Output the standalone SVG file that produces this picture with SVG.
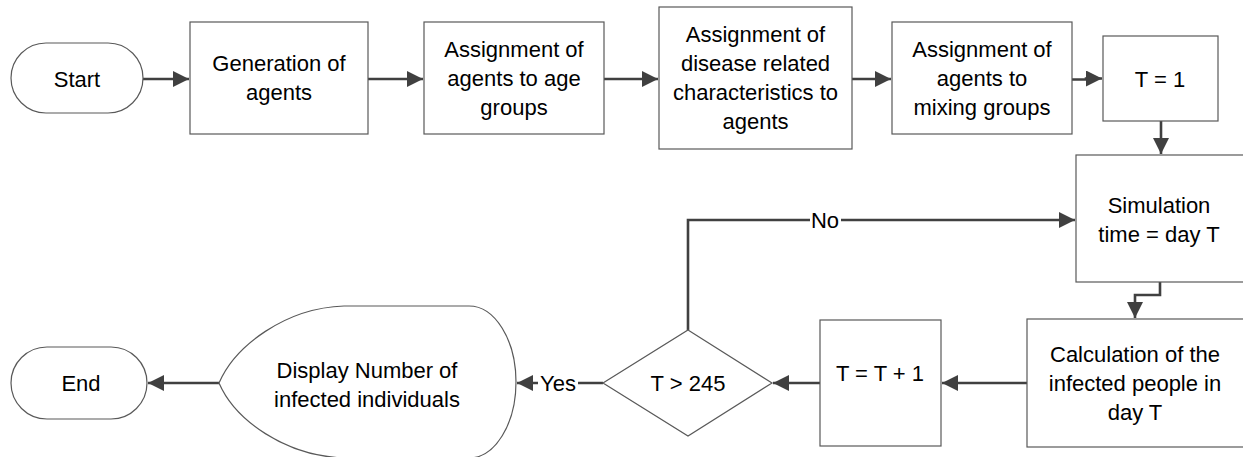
<svg xmlns="http://www.w3.org/2000/svg" width="1243" height="457" viewBox="0 0 1243 457">
<style>
.shape{fill:#fff;stroke:#595959;stroke-width:1.2}
.conn{fill:none;stroke:#404040;stroke-width:2.6}
text{font-family:"Liberation Sans",Arial,sans-serif;font-size:22px;fill:#000;text-anchor:middle}
.lbl{fill:#fff;stroke:none}
</style>
<defs>
<marker id="arr" markerWidth="16" markerHeight="16" viewBox="0 0 16 16" refX="16" refY="8" orient="auto" markerUnits="userSpaceOnUse">
<path d="M0,0 L16,8 L0,16 Z" fill="#404040"/>
</marker>
</defs>
<rect width="1243" height="457" fill="#fff"/>
<g id="connectors">
<path class="conn" d="M143,79 H189" marker-end="url(#arr)"/>
<path class="conn" d="M368,79 H423" marker-end="url(#arr)"/>
<path class="conn" d="M604,79 H658" marker-end="url(#arr)"/>
<path class="conn" d="M852,79 H891" marker-end="url(#arr)"/>
<path class="conn" d="M1072,79.5 H1086 V78.5 H1102" marker-end="url(#arr)"/>
<path class="conn" d="M1161,121 V154" marker-end="url(#arr)"/>
<path class="conn" d="M1160,282 V295 H1135 V318" marker-end="url(#arr)"/>
<path class="conn" d="M1027,383 H942" marker-end="url(#arr)"/>
<path class="conn" d="M820,383 H773" marker-end="url(#arr)"/>
<path class="conn" d="M688,330 V220 H1075" marker-end="url(#arr)"/>
<path class="conn" d="M603,383 H517" marker-end="url(#arr)"/>
<path class="conn" d="M219,383 H148" marker-end="url(#arr)"/>
<rect class="lbl" x="810" y="208" width="31" height="24"/>
<text x="825" y="228">No</text>
<rect class="lbl" x="538" y="371" width="40" height="24"/>
<text x="558" y="391">Yes</text>
</g>
<g id="start">
<rect class="shape" x="11" y="43" width="132" height="70" rx="35" ry="35"/>
<text x="77" y="87">Start</text>
</g>
<g id="generation">
<rect class="shape" x="190" y="22" width="178" height="112"/>
<text x="279" y="71">Generation of</text>
<text x="279" y="100">agents</text>
</g>
<g id="age">
<rect class="shape" x="424" y="22" width="180" height="112"/>
<text x="514" y="57">Assignment of</text>
<text x="514" y="86">agents to age</text>
<text x="514" y="115">groups</text>
</g>
<g id="disease">
<rect class="shape" x="659" y="7" width="193" height="142"/>
<text x="755.5" y="42">Assignment of</text>
<text x="755.5" y="71">disease related</text>
<text x="755.5" y="100">characteristics to</text>
<text x="755.5" y="129">agents</text>
</g>
<g id="mixing">
<rect class="shape" x="892" y="22" width="180" height="112"/>
<text x="982" y="57">Assignment of</text>
<text x="982" y="86">agents to</text>
<text x="982" y="115">mixing groups</text>
</g>
<g id="t1">
<rect class="shape" x="1103" y="36" width="115" height="85"/>
<text x="1160" y="87">T = 1</text>
</g>
<g id="simulation">
<rect class="shape" x="1076" y="155" width="180" height="127"/>
<text x="1159" y="213">Simulation</text>
<text x="1159" y="242">time = day T</text>
</g>
<g id="calculation">
<rect class="shape" x="1027" y="319" width="230" height="128"/>
<text x="1135" y="362">Calculation of the</text>
<text x="1135" y="391">infected people in</text>
<text x="1135" y="420">day T</text>
</g>
<g id="increment">
<rect class="shape" x="820" y="320" width="121" height="126"/>
<text x="880" y="381">T = T + 1</text>
</g>
<g id="decision">
<polygon class="shape" points="688,330 772,383 688,436 603,383"/>
<text x="688" y="391">T &gt; 245</text>
</g>
<g id="display">
<path class="shape" d="M344,306 H469 A47,76 0 0 1 469,458 H344 C285,456 235,420 219,383 C235,346 285,308 344,306 Z"/>
<text x="367" y="378">Display Number of</text>
<text x="367" y="407">infected individuals</text>
</g>
<g id="end">
<rect class="shape" x="11" y="347" width="136" height="72" rx="36" ry="36"/>
<text x="81" y="391">End</text>
</g>
</svg>
